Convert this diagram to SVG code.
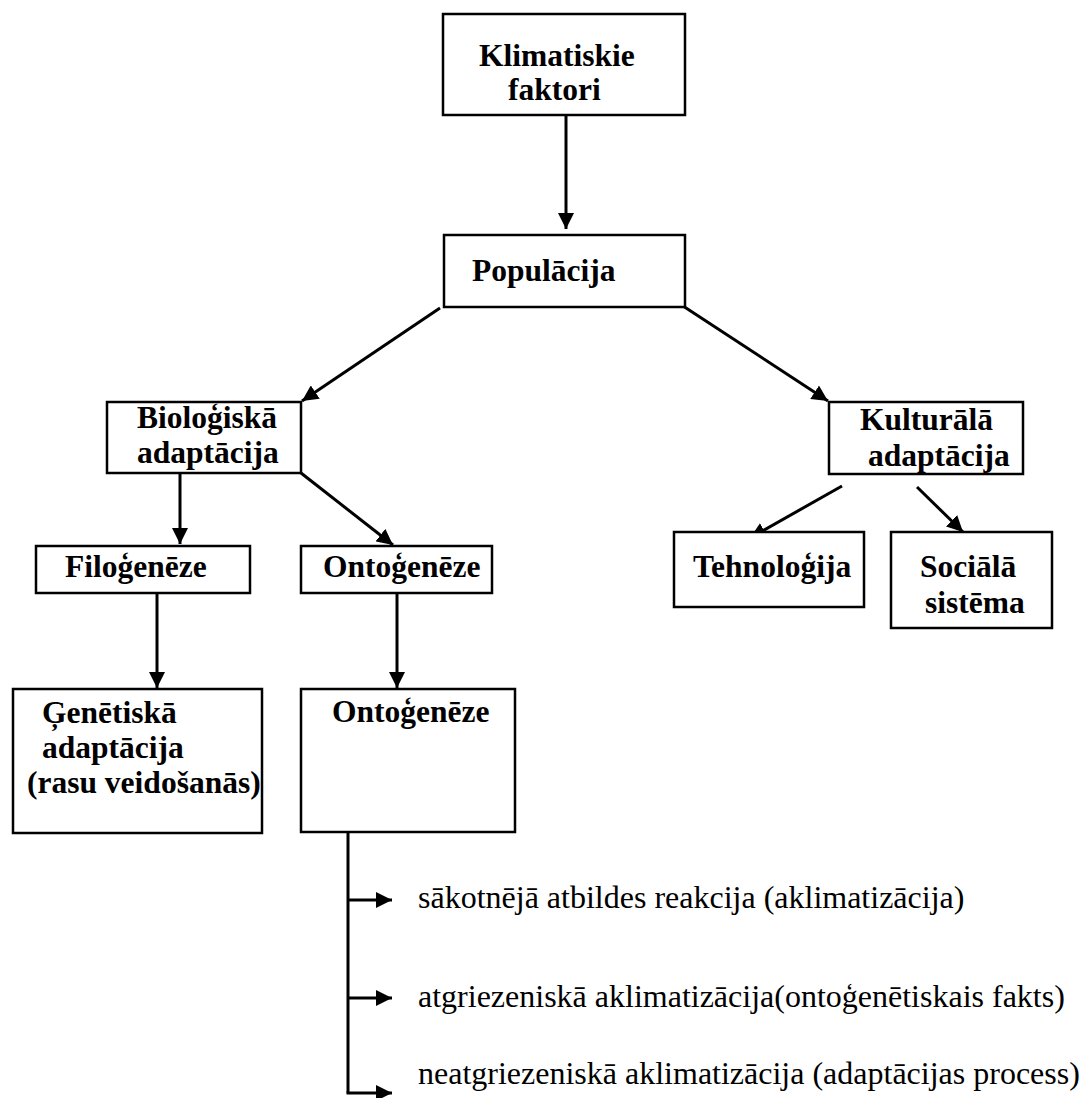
<svg xmlns="http://www.w3.org/2000/svg" width="1085" height="1098" viewBox="0 0 1085 1098">
<style>
.box{fill:#fff;stroke:#000;stroke-width:2.5}
.lbl{font-family:"Liberation Serif","Times New Roman",serif;font-weight:bold;font-size:31.5px;fill:#000}
.txt{font-family:"Liberation Serif","Times New Roman",serif;font-size:32px;fill:#000}
.con{stroke:#000;stroke-width:3;fill:none}
.arr{marker-end:url(#ah)}
</style>
<defs>
<marker id="ah" viewBox="0 0 16 16" refX="16" refY="8" markerWidth="16" markerHeight="16" markerUnits="userSpaceOnUse" orient="auto">
<path d="M0,0 L16,8 L0,16 z" fill="#000"/>
</marker>
</defs>
<rect width="1085" height="1098" fill="#fff"/>
<g id="connectors">
<line class="con arr" x1="566" y1="115" x2="566" y2="229"/>
<line class="con arr" x1="440" y1="308" x2="302" y2="401"/>
<line class="con arr" x1="683" y1="306" x2="828" y2="401"/>
<line class="con arr" x1="180" y1="473" x2="180" y2="544"/>
<line class="con arr" x1="301" y1="473" x2="393" y2="545"/>
<line class="con arr" x1="842" y1="486" x2="750" y2="538"/>
<line class="con arr" x1="917" y1="487" x2="963" y2="532"/>
<line class="con arr" x1="157" y1="593" x2="157" y2="688"/>
<line class="con arr" x1="397" y1="593" x2="397" y2="688"/>
<polyline class="con" points="348,832 348,1093"/>
<line class="con arr" x1="347" y1="900" x2="392" y2="900"/>
<line class="con arr" x1="347" y1="998" x2="392" y2="998"/>
<line class="con arr" x1="346.5" y1="1093" x2="392" y2="1093"/>
</g>
<g id="n-klimatiskie">
<rect class="box" x="443" y="14" width="242" height="101"/>
<text class="lbl" x="479" y="66">Klimatiskie</text>
<text class="lbl" x="508" y="100">faktori</text>
</g>
<g id="n-populacija">
<rect class="box" x="444" y="235" width="241" height="72"/>
<text class="lbl" x="472" y="281">Populācija</text>
</g>
<g id="n-biologiska">
<rect class="box" x="107" y="402" width="194" height="71"/>
<text class="lbl" x="137" y="428">Bioloģiskā</text>
<text class="lbl" x="137" y="463">adaptācija</text>
</g>
<g id="n-kulturala">
<rect class="box" x="829" y="402" width="194" height="72"/>
<text class="lbl" x="860" y="430">Kulturālā</text>
<text class="lbl" x="868" y="466">adaptācija</text>
</g>
<g id="n-tehnologija">
<rect class="box" x="674" y="532" width="190" height="75"/>
<text class="lbl" x="693" y="577">Tehnoloģija</text>
</g>
<g id="n-sociala">
<rect class="box" x="891" y="532" width="161" height="96"/>
<text class="lbl" x="920" y="577">Sociālā</text>
<text class="lbl" x="925" y="613">sistēma</text>
</g>
<g id="n-filogeneze">
<rect class="box" x="36" y="546" width="214" height="47"/>
<text class="lbl" x="65" y="577">Filoģenēze</text>
</g>
<g id="n-ontogeneze1">
<rect class="box" x="301" y="546" width="191" height="47"/>
<text class="lbl" x="323" y="577">Ontoģenēze</text>
</g>
<g id="n-genetiska">
<rect class="box" x="13" y="689" width="249" height="144"/>
<text class="lbl" x="42" y="723">Ģenētiskā</text>
<text class="lbl" x="42" y="758">adaptācija</text>
<text class="lbl" x="27" y="793">(rasu veidošanās)</text>
</g>
<g id="n-ontogeneze2">
<rect class="box" x="301" y="689" width="214" height="143"/>
<text class="lbl" x="332" y="722">Ontoģenēze</text>
</g>
<g id="labels">
<text class="txt" x="418" y="908">sākotnējā atbildes reakcija (aklimatizācija)</text>
<text class="txt" x="418" y="1007">atgriezeniskā aklimatizācija(ontoģenētiskais fakts)</text>
<text class="txt" x="418" y="1084">neatgriezeniskā aklimatizācija (adaptācijas process)</text>
</g>
</svg>
